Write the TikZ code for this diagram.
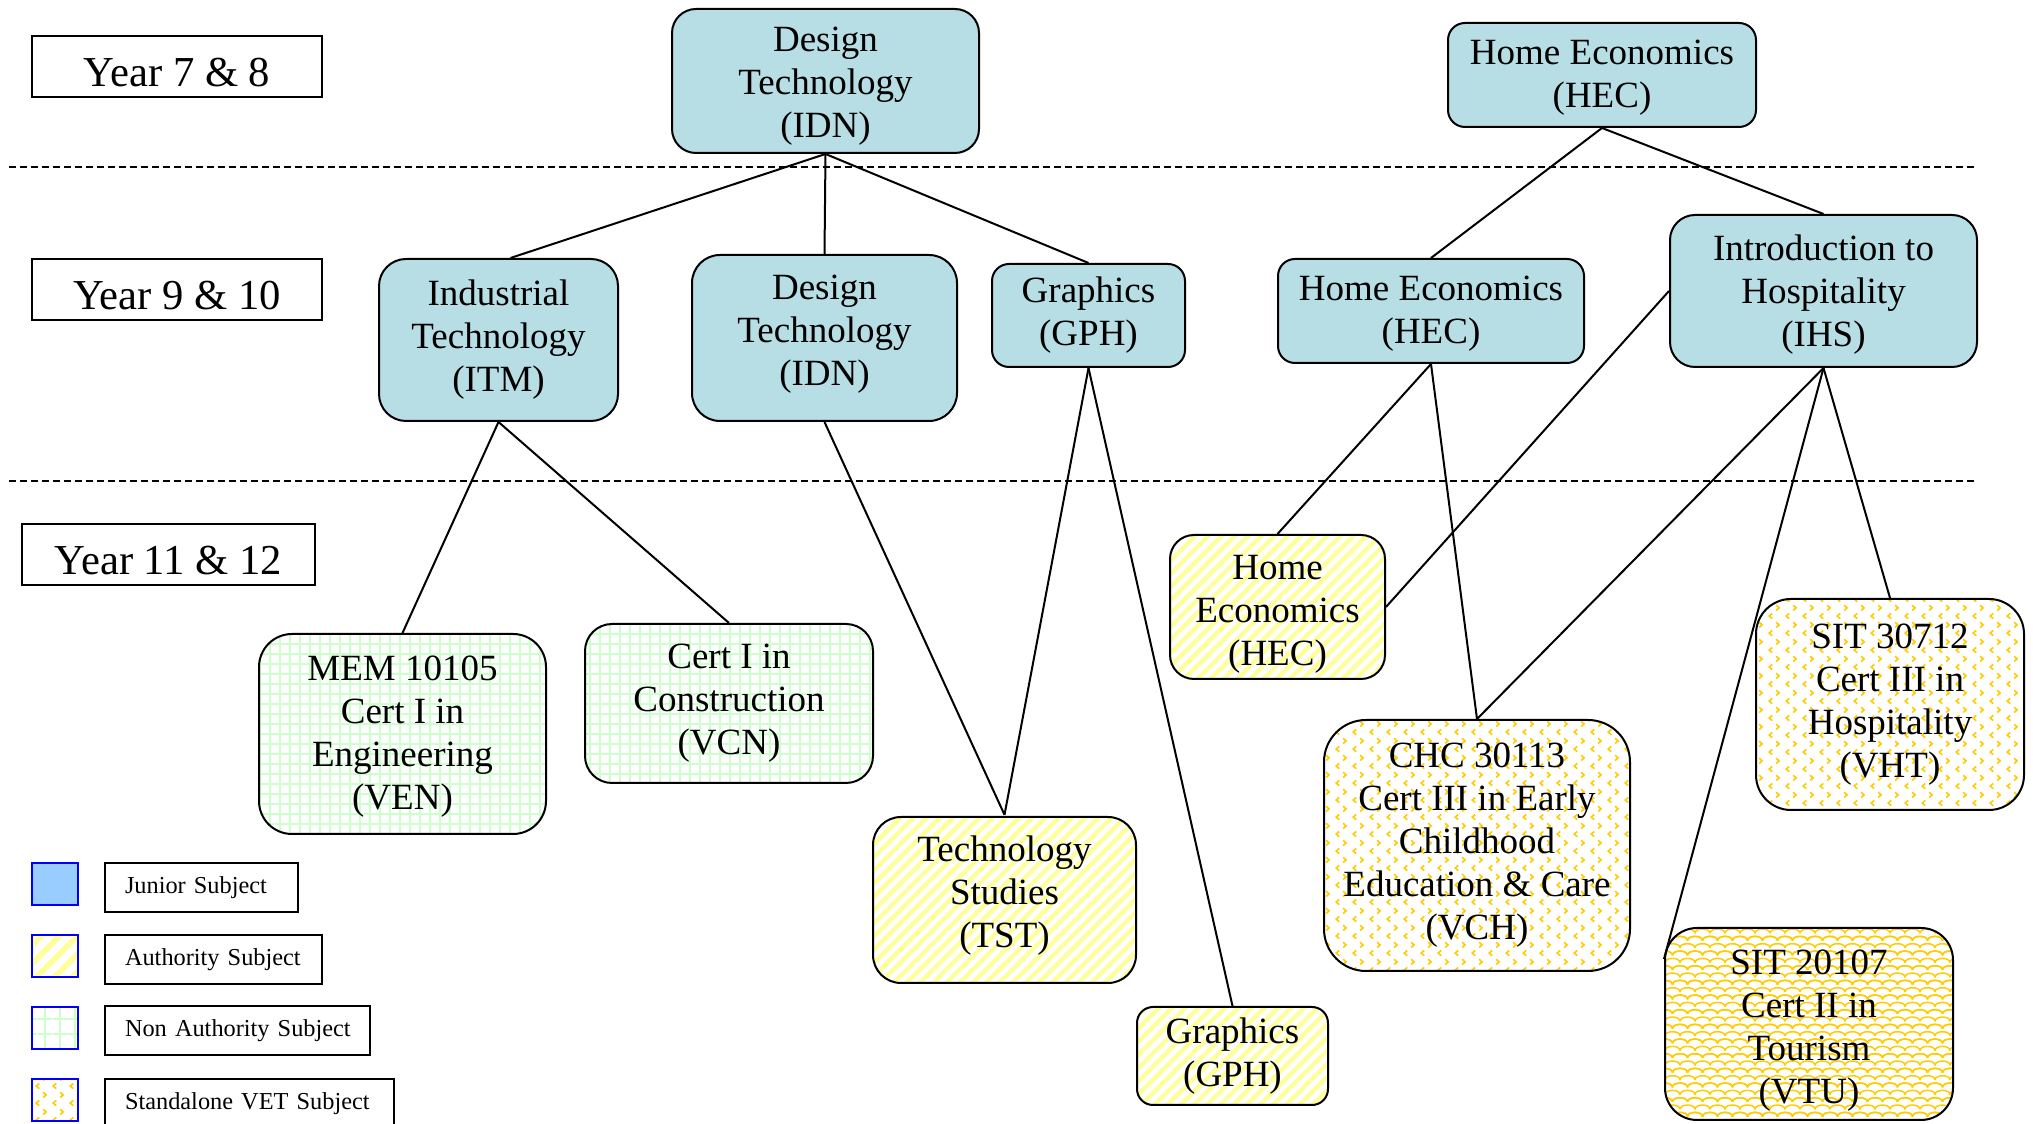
\documentclass[tikz,border=0pt]{standalone}
\usepackage{fontspec}
\setmainfont{Liberation Serif}
\usetikzlibrary{patterns.meta}
\definecolor{junfill}{RGB}{183,222,228}
\definecolor{legblue}{RGB}{153,204,255}
\definecolor{stripey}{RGB}{255,255,153}
\definecolor{gridg}{RGB}{204,255,204}
\definecolor{vetgold}{RGB}{255,204,0}
\newcommand\mystrut[1]{\rule{0pt}{#1}}
\tikzdeclarepattern{
  name=vetchev,
  type=uncolored,
  bottom left={(0pt,0pt)},
  top right={(5pt,5pt)},
  tile size={(5pt,5pt)},
  code={
    \draw[line width=.5pt] (1.9pt,.4pt) -- (1pt,1.2pt) -- (1.9pt,2pt);
    \draw[line width=.5pt] (3.1pt,2.9pt) -- (4pt,3.7pt) -- (3.1pt,4.5pt);
  }
}
\tikzdeclarepattern{
  name=vetscale,
  type=uncolored,
  bottom left={(-2.5pt,-0.5pt)},
  top right={(7pt,4.6pt)},
  tile size={(4.5pt,4.4pt)},
  code={
    \draw[line width=.45pt] (0pt,0pt) .. controls (0pt,1.7pt) and (4.5pt,1.7pt) .. (4.5pt,0pt);
    \draw[line width=.45pt] (-2.25pt,2.2pt) .. controls (-2.25pt,3.9pt) and (2.25pt,3.9pt) .. (2.25pt,2.2pt);
    \draw[line width=.45pt] (2.25pt,2.2pt) .. controls (2.25pt,3.9pt) and (6.75pt,3.9pt) .. (6.75pt,2.2pt);
  }
}
\begin{document}
\begin{tikzpicture}[x=0.3pt,y=-0.3pt,
  subj/.style={draw=black, line width=0.6pt, rectangle, align=center, inner sep=0pt,
    font=\fontsize{11.1}{12.9}\selectfont},
  junior/.style={subj, fill=junfill},
  auth/.style={subj, pattern={Lines[angle=45,distance=2.8pt,line width=1.3pt]}, pattern color=stripey},
  nonauth/.style={subj, pattern={Hatch[angle=0,distance=3pt,line width=0.6pt]}, pattern color=gridg},
  vet/.style={subj, pattern=vetchev, pattern color=vetgold},
  vetdense/.style={subj, pattern=vetscale, pattern color=vetgold},
  tup/.style={execute at end node={\rule[-#1]{0pt}{0pt}}},
  yearbox/.style={draw=black, line width=0.7pt, rectangle, inner sep=0pt, minimum height=18.3pt,
    font=\fontsize{12.8}{15}\selectfont, execute at begin node={\rule{0pt}{12pt}}},
  legsq/.style={draw=blue, line width=0.6pt, rectangle, inner sep=0pt, minimum width=13.8pt, minimum height=12.6pt},
  leglab/.style={draw=black, line width=0.6pt, rectangle, anchor=west, inner xsep=6pt, inner ysep=0pt,
    minimum height=14.7pt, align=left, font=\fontsize{7.3}{9}\selectfont},
  link/.style={line width=0.6pt, draw=black},
  levelsep/.style={line width=0.6pt, dash pattern=on 2pt off 1.3pt}
]
\useasboundingbox (0,0) rectangle (2033,1124);

% level separators
\draw[levelsep] (9,167) -- (1977,167);
\draw[levelsep] (9,481) -- (1977,481);

% year labels
\node[yearbox, minimum width=87pt] (Y78) at (177,66.5) {Year 7 \& 8};
\node[yearbox, minimum width=87pt] (Y910) at (177,289.5) {Year 9 \& 10};
\node[yearbox, minimum width=87.9pt] (Y1112) at (168.5,554.5) {Year 11 \& 12};

% Year 7 & 8
\node[junior, minimum width=92.1pt, minimum height=43.2pt, rounded corners=7.2pt] (IDN0) at (825.5,81) {\mystrut{10.6pt}Design\\Technology\\(IDN)};
\node[junior, minimum width=92.4pt, minimum height=31.2pt, rounded corners=5.1pt] (HECt) at (1602,75) {\mystrut{9pt}Home Economics\\(HEC)};

% Year 9 & 10
\node[junior, minimum width=71.7pt, minimum height=48.6pt, rounded corners=8.1pt] (ITM) at (498.5,340) {Industrial\\Technology\\(ITM)};
\node[junior, tup=4.8pt, minimum width=79.5pt, minimum height=49.8pt, rounded corners=8.4pt] (IDN1) at (824.5,338) {Design\\Technology\\(IDN)};
\node[junior, minimum width=57.9pt, minimum height=30.9pt, rounded corners=5.1pt] (GPH1) at (1088.5,315.5) {Graphics\\(GPH)};
\node[junior, minimum width=91.8pt, minimum height=31.2pt, rounded corners=5.1pt] (HEC1) at (1431,311) {\mystrut{9pt}Home Economics\\(HEC)};
\node[junior, minimum width=92.1pt, minimum height=45.6pt, rounded corners=7.5pt] (IHS) at (1823.5,291) {\mystrut{9.6pt}Introduction to\\Hospitality\\(IHS)};

% Year 11 & 12
\node[nonauth, minimum width=86.1pt, minimum height=60pt, rounded corners=9.9pt] (VEN) at (402.5,734) {\mystrut{8.7pt}MEM 10105\\Cert I in\\Engineering\\(VEN)};
\node[nonauth, minimum width=86.4pt, minimum height=47.7pt, rounded corners=8.1pt] (VCN) at (729,703.5) {Cert I in\\Construction\\(VCN)};
\node[auth, tup=4.8pt, minimum width=78.9pt, minimum height=49.8pt, rounded corners=8.4pt] (TST) at (1004.5,900) {Technology\\Studies\\(TST)};
\node[auth, minimum width=57.3pt, minimum height=29.4pt, rounded corners=4.8pt] (GPH2) at (1232.5,1056) {Graphics\\(GPH)};
\node[auth, minimum width=64.5pt, minimum height=43.2pt, rounded corners=7.2pt] (HEC2) at (1277.5,607) {\mystrut{11.4pt}Home\\Economics\\(HEC)};
\node[vet, minimum width=91.8pt, minimum height=75.3pt, rounded corners=12.6pt] (VCH) at (1477,845.5) {CHC 30113\\Cert III in Early\\Childhood\\Education \& Care\\(VCH)};
\node[vet, minimum width=80.4pt, minimum height=63.3pt, rounded corners=10.5pt] (VHT) at (1890,704.5) {SIT 30712\\Cert III in\\Hospitality\\(VHT)};
\node[vetdense, minimum width=86.4pt, minimum height=57.6pt, rounded corners=9.6pt] (VTU) at (1809,1024) {\mystrut{11.5pt}SIT 20107\\Cert II in\\Tourism\\(VTU)};

% connectors
\draw[link] (IDN0.south) -- ([xshift=3.6pt]ITM.north);
\draw[link] (IDN0.south) -- (IDN1.north);
\draw[link] (IDN0.south) -- (GPH1.north);
\draw[link] (HECt.south) -- (HEC1.north);
\draw[link] (HECt.south) -- (IHS.north);
\draw[link] (ITM.south) -- (VEN.north);
\draw[link] (ITM.south) -- (VCN.north);
\draw[link] (IDN1.south) -- (TST.north);
\draw[link] (GPH1.south) -- (TST.north);
\draw[link] (GPH1.south) -- (GPH2.north);
\draw[link] (HEC1.south) -- (HEC2.north);
\draw[link] (HEC1.south) -- (VCH.north);
\draw[link] (IHS.west) -- (HEC2.east);
\draw[link] (IHS.south) -- (VCH.north);
\draw[link] (IHS.south) -- (VHT.north);
\coordinate (VTUend) at ([yshift=-9.6pt]VTU.north west);
\draw[link] (IHS.south) -- (VTUend);

% legend
\node[legsq, fill=legblue] (L1) at (55,884) {};
\node[legsq, pattern={Lines[angle=45,distance=4pt,line width=1.8pt]}, pattern color=stripey] (L2) at (55,956.5) {};
\node[legsq, pattern={Hatch[angle=0,distance=4.5pt,line width=0.7pt]}, pattern color=gridg] (L3) at (55,1028) {};
\node[legsq, pattern=vetchev, pattern color=vetgold] (L4) at (55,1100) {};
\node[leglab, text width=45.9pt] (T1) at (104,888) {\mbox{Junior Subject}};
\node[leglab, text width=53.1pt] (T2) at (104,960) {\mbox{Authority Subject}};
\node[leglab, text width=67.5pt] (T3) at (104,1031) {\mbox{Non Authority Subject}};
\node[leglab, text width=74.7pt] (T4) at (104,1104) {\mbox{Standalone VET Subject}};
\end{tikzpicture}
\end{document}
